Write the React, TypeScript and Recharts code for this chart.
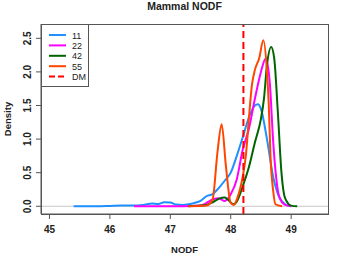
import React from "react";
import {
  LineChart,
  Line,
  XAxis,
  YAxis,
  ReferenceLine,
  Legend,
} from "recharts";

const xDomain = [44.86, 49.61];
const yDomain = [-0.115, 2.713];
const xTicks = [45, 46, 47, 48, 49];
const yTicks = [0, 0.5, 1, 1.5, 2, 2.5];
const dmValue = 48.21;

const seriesNames = ["11", "22", "42", "55"];
const seriesColors = ["#1E90FF", "#FF00FF", "#006400", "#FF4500"];

const nodf11 = [45.4, 45.8, 46.0, 46.2, 46.4, 46.55, 46.7, 46.8, 46.9, 47.0, 47.1, 47.2, 47.3, 47.4, 47.5, 47.6, 47.7, 47.8, 47.9, 48.0, 48.1, 48.2, 48.3, 48.4, 48.45, 48.5, 48.6, 48.7, 48.8, 48.9, 49.0];
const dens11 = [0, 0, 0.005, 0.01, 0.01, 0.02, 0.04, 0.035, 0.06, 0.055, 0.025, 0.02, 0.03, 0.05, 0.08, 0.15, 0.18, 0.27, 0.38, 0.5, 0.75, 1.03, 1.32, 1.5, 1.52, 1.45, 1.0, 0.45, 0.14, 0.03, 0];

const nodf22 = [46.4, 46.8, 47.2, 47.5, 47.6, 47.7, 47.8, 47.9, 48.0, 48.1, 48.2, 48.3, 48.4, 48.5, 48.58, 48.65, 48.7, 48.75, 48.8, 48.9, 49.0];
const dens22 = [0, 0, 0, 0.01, 0.05, 0.1, 0.12, 0.08, 0.18, 0.4, 0.85, 1.15, 1.6, 2.0, 2.2, 1.8, 1.0, 0.45, 0.15, 0.02, 0];

const nodf42 = [47.3, 47.5, 47.6, 47.7, 47.8, 47.9, 47.95, 48.05, 48.1, 48.2, 48.3, 48.4, 48.5, 48.55, 48.6, 48.67, 48.72, 48.78, 48.84, 48.9, 49.0, 49.1];
const dens42 = [0, 0.01, 0.02, 0.06, 0.11, 0.13, 0.1, 0.03, 0.07, 0.3, 0.58, 0.95, 1.3, 1.6, 2.1, 2.37, 2.2, 1.4, 0.5, 0.12, 0.01, 0];

const nodf55 = [47.3, 47.6, 47.7, 47.78, 47.85, 47.92, 48.0, 48.05, 48.1, 48.2, 48.25, 48.3, 48.35, 48.4, 48.47, 48.54, 48.6, 48.63, 48.66, 48.7, 48.74, 48.85];
const dens55 = [0, 0.01, 0.1, 0.8, 1.22, 0.6, 0.05, 0.02, 0.1, 0.45, 0.75, 1.3, 1.8, 2.03, 2.2, 2.47, 2.0, 1.5, 0.7, 0.25, 0.03, 0];

const xs = [nodf11, nodf22, nodf42, nodf55];
const ys = [dens11, dens22, dens42, dens55];

const series = seriesNames.map((name, i) => ({
  name,
  color: seriesColors[i],
  data: xs[i].map((x, j) => ({ x, y: ys[i][j] })),
}));

const font = "'Liberation Sans', Arial, sans-serif";
const frame = { stroke: "#555", strokeWidth: 1 };
const margin = { top: 24, right: 21, bottom: 0, left: 0 };
const W = 349;
const H = 261;
const yAxisW = 41;
const xAxisH = 47;

const XTick = (props: any) => {
  const { x, y, payload } = props;
  return (
    <g>
      <line x1={x} x2={x} y1={y} y2={y + 5} stroke="#555" />
      <text x={x} y={y + 19} textAnchor="middle" fontSize={10} fontWeight="bold" fill="#222" fontFamily={font}>
        {payload.value}
      </text>
    </g>
  );
};

const YTick = (props: any) => {
  const { x, y, payload } = props;
  return (
    <g>
      <line x1={x} x2={x - 5} y1={y} y2={y} stroke="#555" />
      <text
        x={x - 10}
        y={y}
        textAnchor="middle"
        fontSize={10}
        fontWeight="bold"
        fill="#222"
        fontFamily={font}
        transform={`rotate(-90 ${x - 10} ${y})`}
      >
        {Number(payload.value).toFixed(1)}
      </text>
    </g>
  );
};

const LegendBox = () => (
  <svg width={48} height={63} style={{ display: "block" }}>
    <rect x={0.5} y={0.5} width={47} height={62} fill="#fff" stroke="#555" />
    {series.map((s, i) => (
      <g key={s.name}>
        <line x1={8} x2={25} y1={11 + i * 10.4} y2={11 + i * 10.4} stroke={s.color} strokeWidth={2} />
        <text x={31} y={14.5 + i * 10.4} fontSize={9} fill="#222" fontFamily={font}>
          {s.name}
        </text>
      </g>
    ))}
    <line x1={8} x2={25} y1={52.6} y2={52.6} stroke="#FF0000" strokeWidth={2} strokeDasharray="6 3" />
    <text x={31} y={56.1} fontSize={9} fill="#222" fontFamily={font}>
      DM
    </text>
  </svg>
);

export default function App() {
  return (
    <div style={{ position: "absolute", left: 0, top: 0, width: W, height: H, background: "#fff" }}>
      <LineChart width={W} height={H} margin={margin}>
        <XAxis
          type="number"
          dataKey="x"
          domain={xDomain}
          ticks={xTicks}
          allowDataOverflow
          height={xAxisH}
          axisLine={frame}
          tickLine={false}
          tickSize={0}
          tickMargin={0}
          tick={<XTick />}
        />
        <YAxis
          type="number"
          domain={yDomain}
          ticks={yTicks}
          allowDataOverflow
          width={yAxisW}
          axisLine={frame}
          tickLine={false}
          tickSize={0}
          tickMargin={0}
          tick={<YTick />}
        />
        <ReferenceLine y={0} stroke="#c8c8c8" strokeWidth={1} />
        {series.map((s) => (
          <Line
            key={s.name}
            data={s.data}
            dataKey="y"
            name={s.name}
            type="monotone"
            stroke={s.color}
            strokeWidth={2}
            dot={false}
            isAnimationActive={false}
          />
        ))}
        <ReferenceLine x={dmValue} stroke="#FF0000" strokeWidth={2} strokeDasharray="7 4" />
        <Legend
          layout="vertical"
          align="center"
          verticalAlign="middle"
          content={<LegendBox />}
          wrapperStyle={{ position: "absolute", left: 41, top: 24, width: 48, height: 63 }}
        />
        <text x={184.5} y={10} textAnchor="middle" fontSize={10.5} fontWeight="bold" fill="#222" fontFamily={font}>
          Mammal NODF
        </text>
        <text x={184.5} y={253} textAnchor="middle" fontSize={9.5} fontWeight="bold" fill="#222" fontFamily={font}>
          NODF
        </text>
        <text
          x={11}
          y={119}
          textAnchor="middle"
          fontSize={9.5}
          fontWeight="bold"
          fill="#222"
          fontFamily={font}
          transform="rotate(-90 11 119)"
        >
          Density
        </text>
      </LineChart>
      {/* plot box frame, drawn over the chart */}
      <div
        style={{
          position: "absolute",
          left: yAxisW,
          top: margin.top,
          width: W - yAxisW - margin.right + 1,
          height: H - margin.top - xAxisH + 1,
          border: "1px solid #555",
          boxSizing: "border-box",
          pointerEvents: "none",
        }}
      />
    </div>
  );
}
